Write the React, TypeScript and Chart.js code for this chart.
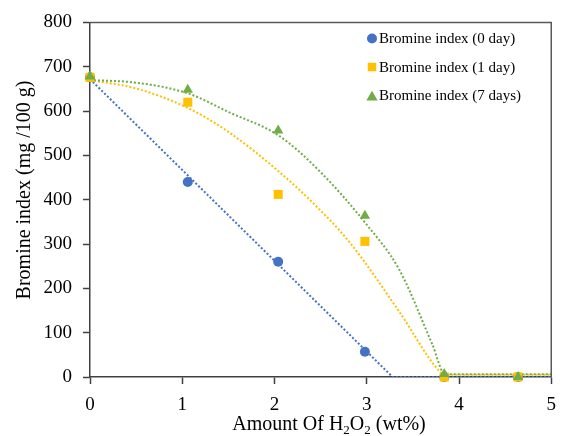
import React, { useEffect, useRef } from 'react';
import { Chart, registerables } from 'chart.js';

Chart.register(...registerables);

const SERIF = "'Liberation Serif', 'Times New Roman', serif";

// Measured samples: amount of H2O2 (wt%) and bromine index (mg/100 g)
const h2o2 = [0, 1.06, 2.04, 2.98, 3.84, 4.64];
const bromineDay0 = [676, 440, 260, 57, 0, 0];
const bromineDay1 = [676, 620, 412, 306, 0, 0];
const bromineDay7 = [678, 648, 556, 364, 7, 0];

const seriesNames = ['Bromine index (0 day)', 'Bromine index (1 day)', 'Bromine index (7 days)'];
const seriesColors = ['#4472C4', '#FFC000', '#70AD47'];
const seriesShapes = ['circle', 'rect', 'triangle'];
const seriesRadii = [5, 6.4, 6];

// Fitted trend curves (dotted)
const trendDay0X = [0, 3.28, 5];
const trendDay0Y = [672, 0, 0];
const trendDay1X = [0, 0.5, 1.06, 1.5, 2.05, 2.43, 2.81, 3.35, 3.78, 3.85, 5];
const trendDay1Y = [670, 651, 607, 553, 463, 390, 305, 148, 15, 5, 5];
const trendDay7X = [0, 0.5, 1.06, 1.5, 2.05, 2.5, 2.99, 3.35, 3.71, 3.85, 5];
const trendDay7Y = [670, 664, 640, 598, 544, 462, 346, 243, 74, 6, 6];

const xTicks = [0, 1, 2, 3, 4, 5];
const yTicks = [0, 100, 200, 300, 400, 500, 600, 700, 800];

const toPoints = (xs: number[], ys: number[]) => xs.map((x, i) => ({ x, y: ys[i] }));

function drawMarker(ctx: CanvasRenderingContext2D, shape: string, x: number, y: number, r: number, color: string) {
  ctx.save();
  ctx.fillStyle = color;
  ctx.beginPath();
  if (shape === 'circle') {
    ctx.arc(x, y, r, 0, Math.PI * 2);
  } else if (shape === 'rect') {
    const s = r * Math.SQRT1_2;
    ctx.rect(x - s, y - s, 2 * s, 2 * s);
  } else {
    ctx.moveTo(x, y - r * 0.75);
    ctx.lineTo(x + r * 0.87, y + r * 0.75);
    ctx.lineTo(x - r * 0.87, y + r * 0.75);
    ctx.closePath();
  }
  ctx.fill();
  ctx.restore();
}

const framePlugin = {
  id: 'frameAndTitles',
  afterDraw(chart: any) {
    const { ctx, chartArea } = chart;
    const { left, right, top, bottom } = chartArea;
    ctx.save();

    // top and right frame lines
    ctx.strokeStyle = '#595959';
    ctx.lineWidth = 1.5;
    ctx.beginPath();
    ctx.moveTo(left, top);
    ctx.lineTo(right, top);
    ctx.lineTo(right, bottom);
    ctx.stroke();

    // legend inside the plot area
    ctx.font = `15px ${SERIF}`;
    ctx.textBaseline = 'middle';
    ctx.textAlign = 'left';
    seriesNames.forEach((name, i) => {
      const y = 38.5 + i * 28.5;
      drawMarker(ctx, seriesShapes[i], 372, y, i === 1 ? 6 : i === 2 ? 6.5 : 5, seriesColors[i]);
      ctx.fillStyle = '#000';
      ctx.fillText(name, 379, y + 1);
    });

    // y axis title
    ctx.save();
    ctx.translate(25, 190);
    ctx.rotate(-Math.PI / 2);
    ctx.font = `20px ${SERIF}`;
    ctx.fillStyle = '#000';
    ctx.textAlign = 'center';
    ctx.textBaseline = 'middle';
    ctx.fillText('Bromine index (mg /100 g)', 0, 0);
    ctx.restore();

    // x axis title with subscripts
    const parts: [string, boolean][] = [
      ['Amount Of H', false],
      ['2', true],
      ['O', false],
      ['2', true],
      [' (wt%)', false],
    ];
    const mainFont = `20px ${SERIF}`;
    const subFont = `13px ${SERIF}`;
    let total = 0;
    parts.forEach(([t, sub]) => {
      ctx.font = sub ? subFont : mainFont;
      total += ctx.measureText(t).width;
    });
    let x = 329 - total / 2;
    const baseY = 430;
    ctx.fillStyle = '#000';
    ctx.textAlign = 'left';
    ctx.textBaseline = 'alphabetic';
    parts.forEach(([t, sub]) => {
      ctx.font = sub ? subFont : mainFont;
      ctx.fillText(t, x, sub ? baseY + 4 : baseY);
      x += ctx.measureText(t).width;
    });

    ctx.restore();
  },
};

export default function App() {
  const canvasRef = useRef<HTMLCanvasElement | null>(null);

  useEffect(() => {
    if (!canvasRef.current) return;

    const markerSets = [bromineDay0, bromineDay1, bromineDay7].map((vals, i) => ({
      type: 'scatter' as const,
      label: seriesNames[i],
      data: toPoints(h2o2, vals),
      pointStyle: seriesShapes[i],
      pointRadius: seriesRadii[i],
      pointBackgroundColor: seriesColors[i],
      pointBorderWidth: 0,
      borderColor: seriesColors[i],
      showLine: false,
      clip: false,
      order: 3 - i,
    }));

    const trendSets = [
      [trendDay0X, trendDay0Y],
      [trendDay1X, trendDay1Y],
      [trendDay7X, trendDay7Y],
    ].map(([xs, ys], i) => ({
      type: 'scatter' as const,
      label: seriesNames[i] + ' trend',
      data: toPoints(xs, ys),
      showLine: true,
      pointRadius: 0,
      borderColor: seriesColors[i],
      borderWidth: 2,
      borderDash: [2, 2],
      borderCapStyle: 'butt' as const,
      // the 0-day fit is a straight line clipped at zero
      cubicInterpolationMode: i === 0 ? ('default' as const) : ('monotone' as const),
      tension: 0,
      fill: false,
      order: 6 - i,
    }));

    const chart = new Chart(canvasRef.current, {
      type: 'scatter',
      data: { datasets: [...markerSets, ...trendSets] as any },
      options: {
        animation: false,
        responsive: true,
        maintainAspectRatio: false,
        layout: { padding: { left: 0, right: 12, top: 14, bottom: 0 } },
        plugins: {
          legend: { display: false },
          tooltip: { enabled: false },
        },
        scales: {
          x: {
            type: 'linear',
            min: 0,
            max: 5,
            afterBuildTicks: (scale: any) => {
              scale.ticks = xTicks.map((v) => ({ value: v }));
            },
            afterFit: (scale: any) => {
              scale.height = 59;
            },
            ticks: {
              font: { family: SERIF, size: 19 },
              color: '#000',
              padding: 10,
            },
            grid: {
              drawOnChartArea: false,
              drawTicks: true,
              tickLength: 7,
              tickColor: '#404040',
              tickWidth: 1.5,
            },
            border: { display: true, color: '#404040', width: 1.5 },
          },
          y: {
            type: 'linear',
            min: 0,
            max: 800,
            afterBuildTicks: (scale: any) => {
              scale.ticks = yTicks.map((v) => ({ value: v }));
            },
            afterFit: (scale: any) => {
              scale.width = 90;
            },
            ticks: {
              font: { family: SERIF, size: 19 },
              color: '#000',
              padding: 11,
            },
            grid: {
              drawOnChartArea: false,
              drawTicks: true,
              tickLength: 7,
              tickColor: '#404040',
              tickWidth: 1.5,
            },
            border: { display: true, color: '#404040', width: 1.5 },
          },
        },
      },
      plugins: [framePlugin],
    });

    return () => chart.destroy();
  }, []);

  return (
    <div style={{ position: 'fixed', left: 0, top: 0, width: 566, height: 436, background: '#fff' }}>
      <canvas ref={canvasRef} />
    </div>
  );
}
